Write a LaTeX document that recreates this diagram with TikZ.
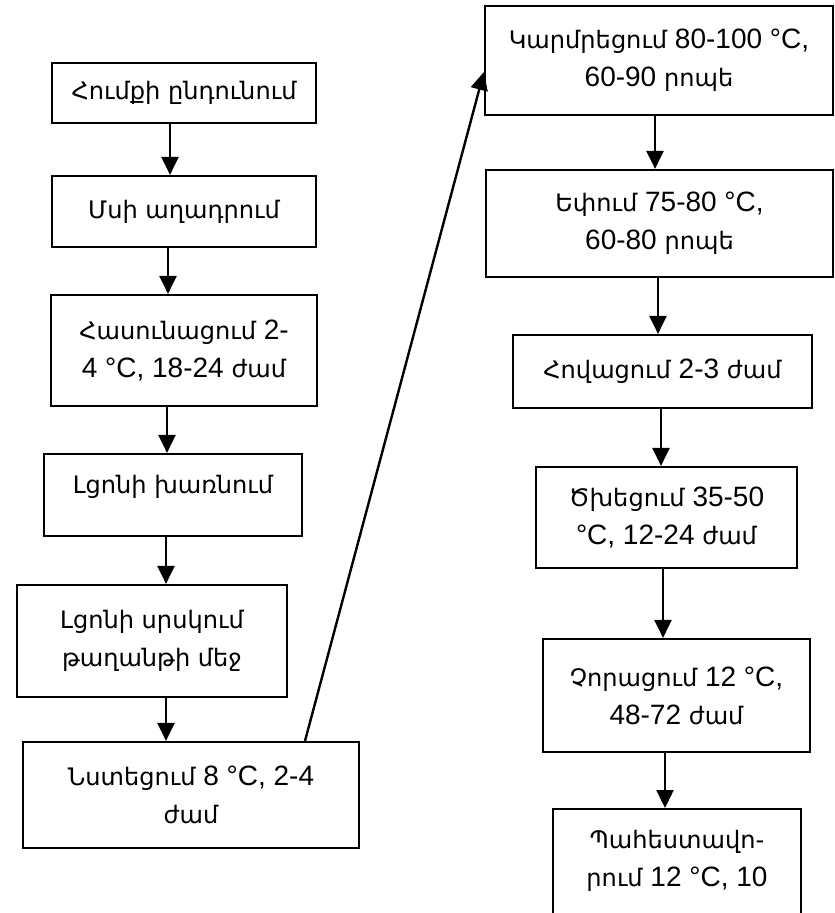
\documentclass[tikz,border=0pt]{standalone}
\usepackage{fontspec}
\setmainfont{Liberation Sans}
\newfontfamily\hyfont{DejaVu Sans}[Scale=0.86]
\newcommand{\hy}[1]{{\hyfont #1}}
\usetikzlibrary{arrows.meta}

\tikzset{
  stage/.style={draw=black, line width=2.2pt, align=center, inner sep=4pt,
    font=\fontsize{28}{38}\selectfont},
  flow/.style={line width=2.4pt, -{Triangle[length=18pt,width=17pt]}}
}

\begin{document}
\begin{tikzpicture}[x=1pt, y=-1pt]
  \useasboundingbox (0,0) rectangle (835,913);
  \clip (0,0) rectangle (835,913);
  \fill[white] (0,0) rectangle (835,913);

  % left column
  \node[stage, minimum width=264pt, minimum height=60pt]  (b1) at (184,93)    {\hy{Հումքի ընդունում}};
  \node[stage, minimum width=264pt, minimum height=71pt]  (b2) at (184,211.5) {\hy{Մսի աղադրում}};
  \node[stage, minimum width=266pt, minimum height=111pt] (b3) at (184,350.5) {\hy{Հասունացում} 2-\\4 °C, 18-24 \hy{ժամ}};
  \node[stage, minimum width=258pt, minimum height=82pt, text depth=21pt] (b4) at (173,495) {\hy{Լցոնի խառնում}};
  \node[stage, minimum width=270pt, minimum height=112pt] (b5) at (152,641)   {\hy{Լցոնի սրսկում}\\\hy{թաղանթի մեջ}};
  \node[stage, minimum width=336pt, minimum height=106pt] (b6) at (191,795)   {\hy{Նստեցում} 8 °C, 2-4\\\hy{ժամ}};

  % right column
  \node[stage, minimum width=348pt, minimum height=109pt] (b7)  at (659,60.5)  {\hy{Կարմրեցում} 80-100 °C,\\60-90 \hy{րոպե}};
  \node[stage, minimum width=347pt, minimum height=107pt] (b8)  at (659.5,223.5) {\hy{Եփում} 75-80 °C,\\60-80 \hy{րոպե}};
  \node[stage, minimum width=299pt, minimum height=73pt]  (b9)  at (662.5,371.5) {\hy{Հովացում} 2-3 \hy{ժամ}};
  \node[stage, minimum width=261pt, minimum height=101pt] (b10) at (666.5,517.5) {\hy{Ծխեցում} 35-50\\°C, 12-24 \hy{ժամ}};
  \node[stage, minimum width=267pt, minimum height=113pt] (b11) at (676.5,695.5) {\hy{Չորացում} 12 °C,\\48-72 \hy{ժամ}};
  \node[stage, minimum width=248pt, anchor=north, inner ysep=21pt, text depth=100pt] (b12) at (677,808) {\hy{Պահեստավո-}\\\hy{րում} 12 °C, 10};

  % connector columns
  \coordinate (xa) at (170,0);
  \coordinate (xb) at (168,0);
  \coordinate (xc) at (167,0);
  \coordinate (xd) at (166,0);
  \coordinate (ya) at (655,0);
  \coordinate (yb) at (658,0);
  \coordinate (yc) at (661,0);
  \coordinate (yd) at (663,0);
  \coordinate (ye) at (665,0);
  \coordinate (jumpfrom) at (305,0);
  \coordinate (jumpto) at (0,72);

  \draw[flow] (b1.south -| xa) -- (b2.north -| xa);
  \draw[flow] (b2.south -| xb) -- (b3.north -| xb);
  \draw[flow] (b3.south -| xc) -- (b4.north -| xc);
  \draw[flow] (b4.south -| xd) -- (b5.north -| xd);
  \draw[flow] (b5.south -| xd) -- (b6.north -| xd);
  \draw[flow] (b6.north -| jumpfrom) -- (b7.west |- jumpto);
  \draw[flow] (b7.south -| ya) -- (b8.north -| ya);
  \draw[flow] (b8.south -| yb) -- (b9.north -| yb);
  \draw[flow] (b9.south -| yc) -- (b10.north -| yc);
  \draw[flow] (b10.south -| yd) -- (b11.north -| yd);
  \draw[flow] (b11.south -| ye) -- (b12.north -| ye);
\end{tikzpicture}
\end{document}
